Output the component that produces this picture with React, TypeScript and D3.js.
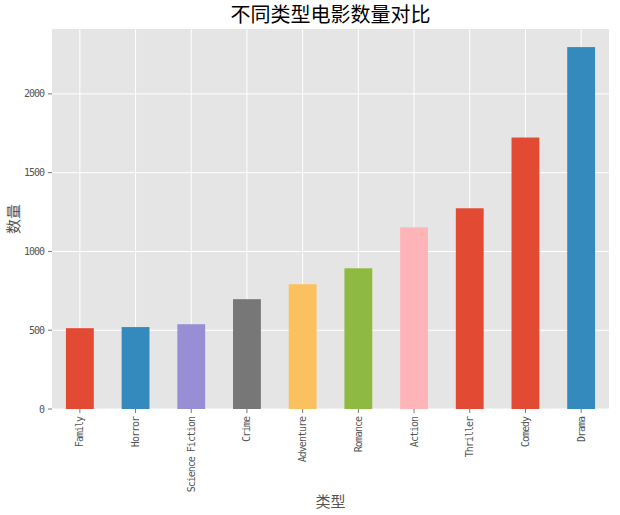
import { useEffect, useRef } from 'react';
import * as d3 from 'd3';

const genres = ['Family', 'Horror', 'Science Fiction', 'Crime', 'Adventure', 'Romance', 'Action', 'Thriller', 'Comedy', 'Drama'];
const counts = [513, 520, 538, 697, 792, 893, 1153, 1274, 1723, 2297];
const barColors = ['#E24A33', '#348ABD', '#988ED5', '#777777', '#FBC15E', '#8EBA42', '#FFB5B8', '#E24A33', '#E24A33', '#348ABD'];
const yTicks = [0, 500, 1000, 1500, 2000];

const title = '不同类型电影数量对比';
const xLabel = '类型';
const yLabel = '数量';

const WIDTH = 620;
const HEIGHT = 515;
const CJK = '"Noto Sans CJK SC", sans-serif';

export default function App() {
  const svgRef = useRef<SVGSVGElement>(null);

  useEffect(() => {
    if (!svgRef.current) return;
    const svg = d3.select(svgRef.current);
    svg.selectAll('*').remove();

    const margin = { top: 29, right: 11, bottom: 106, left: 52 };
    const innerWidth = WIDTH - margin.left - margin.right;
    const innerHeight = HEIGHT - margin.top - margin.bottom;

    const x = d3.scaleBand<string>()
      .domain(genres)
      .range([0, innerWidth])
      .paddingInner(0.5)
      .paddingOuter(0.25);

    const y = d3.scaleLinear()
      .domain([0, d3.max(counts)! * 1.05])
      .range([innerHeight, 0]);

    svg.append('rect')
      .attr('width', WIDTH)
      .attr('height', HEIGHT)
      .attr('fill', '#ffffff');

    const g = svg.append('g')
      .attr('transform', `translate(${margin.left},${margin.top})`);

    // plot background
    g.append('rect')
      .attr('width', innerWidth)
      .attr('height', innerHeight)
      .attr('fill', '#E5E5E5');

    // grid
    g.selectAll('.hgrid')
      .data(yTicks)
      .join('line')
      .attr('x1', 0)
      .attr('x2', innerWidth)
      .attr('y1', d => y(d))
      .attr('y2', d => y(d))
      .attr('stroke', '#ffffff')
      .attr('stroke-width', 1);

    g.selectAll('.vgrid')
      .data(genres)
      .join('line')
      .attr('x1', d => x(d)! + x.bandwidth() / 2)
      .attr('x2', d => x(d)! + x.bandwidth() / 2)
      .attr('y1', 0)
      .attr('y2', innerHeight)
      .attr('stroke', '#ffffff')
      .attr('stroke-width', 1);

    // bars
    g.selectAll('.bar')
      .data(counts)
      .join('rect')
      .attr('x', (_, i) => x(genres[i])!)
      .attr('width', x.bandwidth())
      .attr('y', d => y(d))
      .attr('height', d => innerHeight - y(d))
      .attr('fill', (_, i) => barColors[i]);

    // y axis ticks
    const yAxis = g.append('g');
    yAxis.selectAll('line')
      .data(yTicks)
      .join('line')
      .attr('x1', -4)
      .attr('x2', 0)
      .attr('y1', d => y(d))
      .attr('y2', d => y(d))
      .attr('stroke', '#555555')
      .attr('stroke-width', 0.8);
    yAxis.selectAll('text')
      .data(yTicks)
      .join('text')
      .attr('x', -8)
      .attr('y', d => y(d))
      .attr('dy', '0.35em')
      .attr('text-anchor', 'end')
      .attr('fill', '#555555')
      .attr('font-family', '"DejaVu Sans Mono", monospace')
      .attr('font-size', '10px')
      .attr('letter-spacing', '-1px')
      .text(d => d);

    // x axis ticks
    const xAxis = g.append('g').attr('transform', `translate(0,${innerHeight})`);
    xAxis.selectAll('line')
      .data(genres)
      .join('line')
      .attr('x1', d => x(d)! + x.bandwidth() / 2)
      .attr('x2', d => x(d)! + x.bandwidth() / 2)
      .attr('y1', 0)
      .attr('y2', 4)
      .attr('stroke', '#555555')
      .attr('stroke-width', 0.8);
    xAxis.selectAll('text')
      .data(genres)
      .join('text')
      .attr('transform', d => `translate(${x(d)! + x.bandwidth() / 2},8) rotate(-90)`)
      .attr('dy', '0.35em')
      .attr('text-anchor', 'end')
      .attr('fill', '#555555')
      .attr('font-family', '"DejaVu Sans Mono", monospace')
      .attr('font-size', '10px')
      .attr('letter-spacing', '-1px')
      .text(d => d);

    // title and labels
    svg.append('text')
      .attr('x', margin.left + innerWidth / 2)
      .attr('y', 22)
      .attr('text-anchor', 'middle')
      .attr('fill', '#000000')
      .attr('font-family', CJK)
      .attr('font-size', '20px')
      .text(title);

    svg.append('text')
      .attr('x', margin.left + innerWidth / 2)
      .attr('y', 507)
      .attr('text-anchor', 'middle')
      .attr('fill', '#555555')
      .attr('font-family', CJK)
      .attr('font-size', '15px')
      .text(xLabel);

    svg.append('text')
      .attr('transform', `translate(19,${margin.top + innerHeight / 2}) rotate(-90)`)
      .attr('text-anchor', 'middle')
      .attr('fill', '#555555')
      .attr('font-family', CJK)
      .attr('font-size', '15px')
      .text(yLabel);
  }, []);

  return (
    <svg
      ref={svgRef}
      width={WIDTH}
      height={HEIGHT}
      style={{ position: 'absolute', left: 0, top: 0 }}
    />
  );
}
